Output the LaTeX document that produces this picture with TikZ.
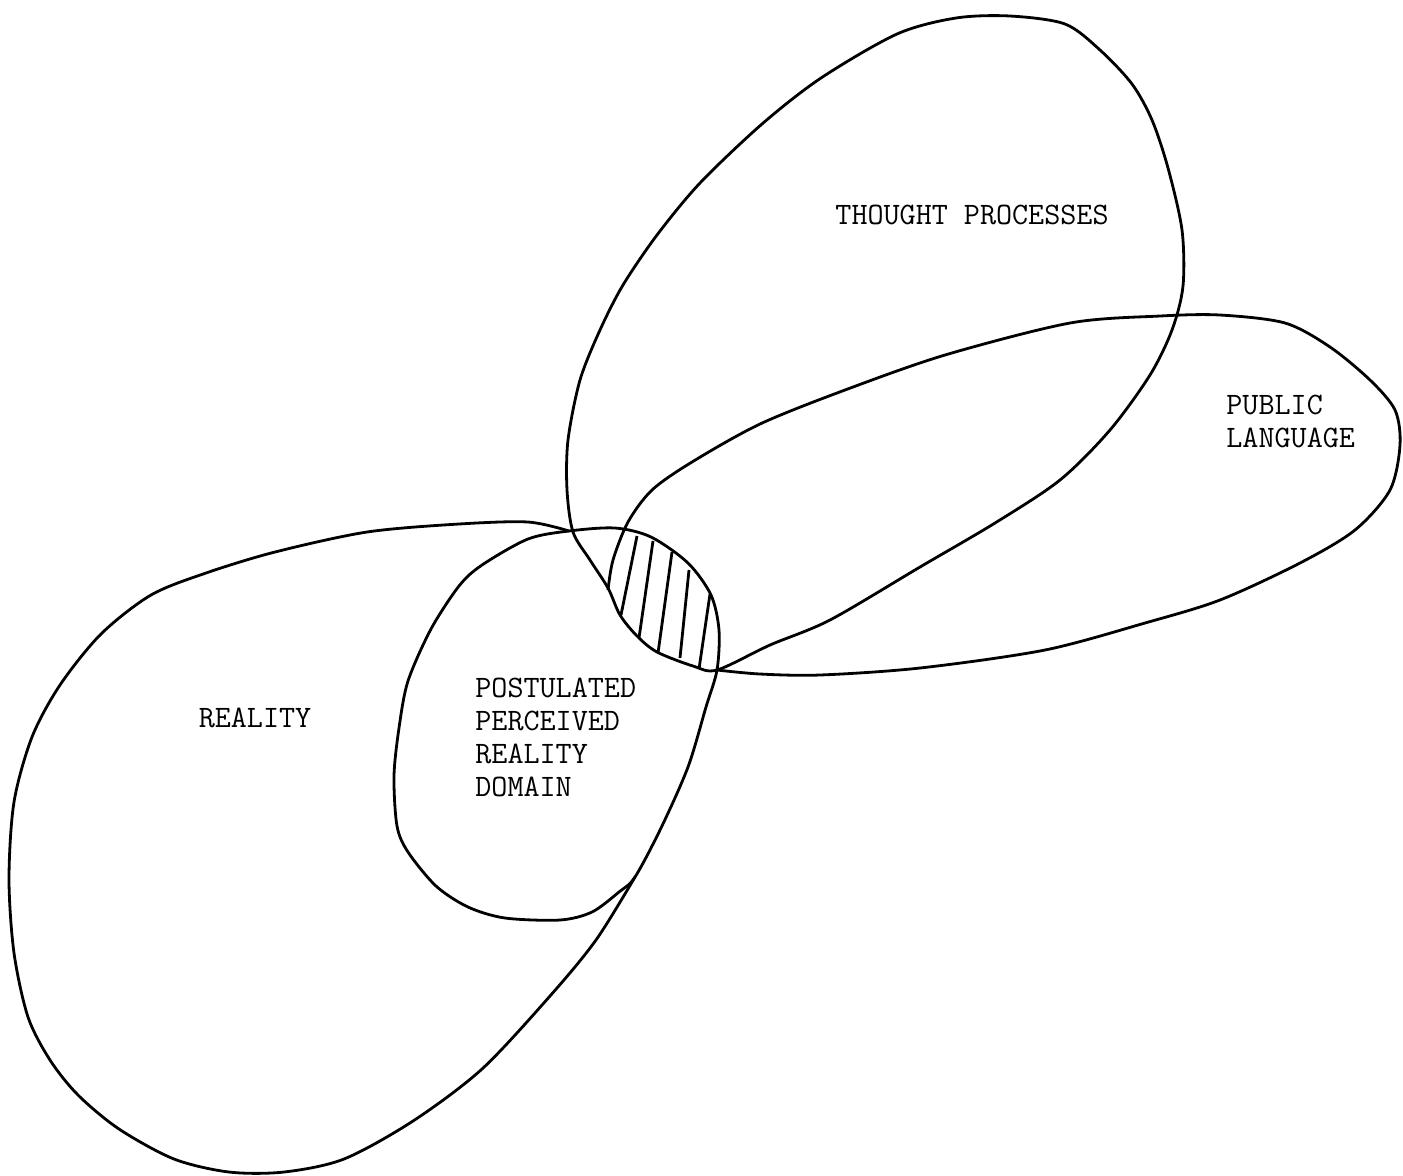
\documentclass[tikz,border=0pt]{standalone}
\usepackage{fontspec}
\usepackage{tikz}

\begin{document}
\begin{tikzpicture}[x=0.5pt, y=-0.5pt, line width=1.4pt, line join=round,
    every node/.style={font=\ttfamily\fontsize{15.6}{16.5}\selectfont, inner sep=0pt, align=left}]

    \useasboundingbox (0,0) rectangle (1403,1175);

    \draw plot [smooth cycle, tension=0.5] coordinates {
      (1010,16) (1065,24) (1100,50) (1132,84) (1152,120) (1168,168) (1182,230)
      (1183,286) (1172,330) (1150,375) (1110,430) (1060,480) (995,523) (920,567)
      (830,620) (770,645) (717,670) (693,666) (657,652) (637,636) (620,615)
      (608,588) (590,560) (573,532) (567,490) (568,440) (580,380) (600,330)
      (623,285) (657,235) (700,183) (762,124) (821,78) (897,34) (956,18)};

    \draw plot [smooth, tension=0.5] coordinates {
      (608,590) (613,560) (628,522) (652,490) (692,462) (760,424) (845,390)
      (945,355) (1070,323) (1160,316) (1220,315) (1285,323) (1330,347)
      (1370,380) (1395,410) (1400,445) (1390,490) (1355,530) (1300,563)
      (1220,600) (1145,623) (1045,650) (920,668) (820,675) (760,674) (717,670)};

    \draw plot [smooth, tension=0.5] coordinates {
      (635,877) (596,940) (550,996) (482,1069) (413,1121) (344,1159) (284,1172)
      (229,1172) (174,1159) (119,1129) (78,1095) (50,1060) (28,1017) (14,953)
      (9,879) (14,802) (32,737) (60,685) (101,634) (151,595) (206,573) (275,552)
      (367,532) (459,524) (528,522) (569,531)};

    \draw plot [smooth cycle, tension=0.5] coordinates {
      (569,531) (615,528) (651,537) (688,563) (711,595) (719,630) (717,670)
      (706,707) (688,767) (661,828) (635,877) (619,892) (592,912) (560,920)
      (505,918) (468,907) (436,886) (408,852) (397,826) (394,776) (399,728)
      (408,681) (431,629) (459,586) (482,565) (528,539)};

    \foreach \xa/\ya/\xb/\yb in {637/536/621/615, 653/541/639/638, 672/552/658/653,
                                 689/570/680/658, 710/594/699/669}
      \draw (\xa,\ya) -- (\xb,\yb);

    \node (thought) at (972,215) {THOUGHT PROCESSES};
    \node [anchor=west] (public) at (1225,421) {PUBLIC\\LANGUAGE};
    \node (reality) at (255,718) {REALITY};
    \node [anchor=west] (domain) at (474,737) {POSTULATED\\PERCEIVED\\REALITY\\DOMAIN};

\end{tikzpicture}
\end{document}
